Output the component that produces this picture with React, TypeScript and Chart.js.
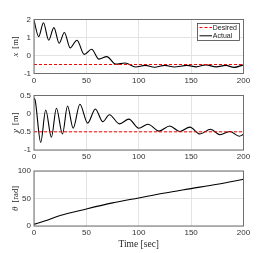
import React, { useEffect, useRef } from "react";
import { Chart, registerables } from "chart.js";

Chart.register(...registerables);

// ---- data ----
const xTime = [0, 4.5, 9, 14, 19, 24, 29, 34.5, 41, 48, 55, 62, 69.5, 78, 87, 97, 106, 115, 125, 134, 146, 155, 164, 174, 183, 191, 200];
const xActual = [1.95, 1.05, 1.82, 0.85, 1.55, 0.68, 1.28, 0.42, 0.85, 0.06, 0.35, -0.2, -0.06, -0.48, -0.42, -0.64, -0.55, -0.65, -0.55, -0.64, -0.55, -0.63, -0.52, -0.63, -0.55, -0.66, -0.52];
const xDesiredTime = [0, 200];
const xDesired = [-0.5, -0.5];

const yTime = [0, 1.2, 6.4, 11.2, 16.6, 21.4, 27.2, 32, 37.4, 43.8, 51.2, 58.6, 65.6, 72, 81.6, 90.6, 100, 108.8, 119.4, 129.6, 139.2, 148.8, 158.4, 168.6, 177.6, 187, 196, 200];
const yActual = [0.43, 0.36, -0.79, 0.1, -0.65, 0.15, -0.56, 0.21, -0.4, 0.26, -0.26, 0.13, -0.22, -0.03, -0.28, -0.15, -0.4, -0.29, -0.48, -0.34, -0.49, -0.37, -0.56, -0.43, -0.58, -0.49, -0.62, -0.57];
const yDesiredTime = [0, 200];
const yDesired = [-0.5, -0.5];

const thetaTime = [0, 10, 25, 50, 75, 100, 125, 150, 175, 200];
const thetaActual = [3, 9, 19, 31, 42, 51, 60, 68, 76, 85];

const xTicks = [0, 50, 100, 150, 200];
const legendLabels = ["Desired", "Actual"];

const W = 269;
const PLOT_LEFT = 34;
const PLOT_RIGHT = 243.5;

const pts = (t: number[], v: number[]) => t.map((tt, i) => ({ x: tt, y: v[i] }));

const borderPlugin = {
  id: "boxBorder",
  afterDraw(chart: any) {
    const { left, right, top, bottom } = chart.chartArea;
    const ctx = chart.ctx;
    ctx.save();
    ctx.strokeStyle = "#6e6e6e";
    ctx.lineWidth = 1;
    ctx.strokeRect(left, top, right - left, bottom - top);
    ctx.restore();
  },
};

function yTitlePlugin(variable: string, unit: string) {
  return {
    id: "yTitle",
    afterDraw(chart: any) {
      const { top, bottom } = chart.chartArea;
      const ctx = chart.ctx;
      ctx.save();
      ctx.translate(16, (top + bottom) / 2);
      ctx.rotate(-Math.PI / 2);
      ctx.fillStyle = "#262626";
      ctx.textBaseline = "middle";
      ctx.textAlign = "left";
      const vFont = "italic 9px 'Liberation Serif'";
      const uFont = "8.5px 'Liberation Serif'";
      ctx.font = vFont;
      const vw = ctx.measureText(variable).width;
      ctx.font = uFont;
      const gap = 4;
      const uw = ctx.measureText(unit).width;
      const total = vw + gap + uw;
      const x0 = -total / 2;
      ctx.font = vFont;
      ctx.fillText(variable, x0, 0);
      ctx.font = uFont;
      ctx.fillText(unit, x0 + vw + gap, 0);
      ctx.restore();
    },
  };
}

const legendPlugin = {
  id: "boxLegend",
  afterDraw(chart: any) {
    const ctx = chart.ctx;
    const bx = 197.5, by = 23.5, bw = 42, bh = 17;
    ctx.save();
    ctx.fillStyle = "#ffffff";
    ctx.fillRect(bx, by, bw, bh);
    ctx.strokeStyle = "#444";
    ctx.lineWidth = 0.8;
    ctx.strokeRect(bx, by, bw, bh);
    const rows = [27.5, 35.8];
    const colors = ["#ff0000", "#000000"];
    const dashes = [[3, 2], []];
    rows.forEach((ry, i) => {
      ctx.beginPath();
      ctx.setLineDash(dashes[i]);
      ctx.strokeStyle = colors[i];
      ctx.lineWidth = 1;
      ctx.moveTo(199.5, ry);
      ctx.lineTo(212, ry);
      ctx.stroke();
      ctx.setLineDash([]);
      ctx.fillStyle = "#1a1a1a";
      ctx.font = "7px 'Liberation Sans'";
      ctx.textBaseline = "middle";
      ctx.textAlign = "left";
      ctx.fillText(legendLabels[i], 212.8, ry + 0.3);
    });
    ctx.restore();
  },
};

const xLabelPlugin = {
  id: "xLabel",
  afterDraw(chart: any) {
    const { left, right } = chart.chartArea;
    const ctx = chart.ctx;
    ctx.save();
    ctx.fillStyle = "#262626";
    ctx.font = "9.5px 'Liberation Serif'";
    ctx.textAlign = "center";
    ctx.textBaseline = "middle";
    ctx.fillText("Time [sec]", (left + right) / 2, 82);
    ctx.restore();
  },
};

function buildConfig(opts: {
  datasets: any[];
  yMin: number;
  yMax: number;
  yStep: number;
  top: number;
  bottom: number;
  height: number;
  plugins: any[];
}) {
  const tickFont = { family: "'Liberation Sans', Arial, sans-serif", size: 8 };
  return {
    type: "line" as const,
    data: { datasets: opts.datasets },
    options: {
      animation: false as const,
      responsive: false,
      maintainAspectRatio: false,
      events: [],
      layout: { padding: { top: opts.top, right: W - PLOT_RIGHT, left: 0, bottom: 0 } },
      plugins: { legend: { display: false }, tooltip: { enabled: false } },
      elements: { point: { radius: 0 } },
      scales: {
        x: {
          type: "linear" as const,
          min: 0,
          max: 200,
          afterBuildTicks: (s: any) => {
            s.ticks = xTicks.map((v) => ({ value: v }));
          },
          afterFit: (s: any) => {
            s.height = opts.height - opts.bottom;
          },
          ticks: {
            font: tickFont,
            color: "#333",
            padding: 2,
            maxRotation: 0,
            autoSkip: false,
            callback: (v: any) => String(v),
          },
          grid: { color: "#e3e3e3", lineWidth: 1, drawTicks: false },
          border: { display: false },
        },
        y: {
          type: "linear" as const,
          min: opts.yMin,
          max: opts.yMax,
          ticks: {
            stepSize: opts.yStep,
            font: tickFont,
            color: "#333",
            padding: 3,
            callback: (v: any) => String(Math.round(Number(v) * 100) / 100),
          },
          afterFit: (s: any) => {
            s.width = PLOT_LEFT;
          },
          grid: { color: "#e3e3e3", lineWidth: 1, drawTicks: false },
          border: { display: false },
        },
      },
    },
    plugins: [borderPlugin, ...opts.plugins],
  };
}

const actualStyle = {
  borderColor: "#000000",
  borderWidth: 1.1,
  pointRadius: 0,
  fill: false,
  cubicInterpolationMode: "monotone" as const,
};
const desiredStyle = {
  borderColor: "#ff0000",
  borderWidth: 1,
  borderDash: [3, 2],
  pointRadius: 0,
  fill: false,
};

function Panel(props: { top: number; height: number; config: () => any }) {
  const ref = useRef<HTMLCanvasElement | null>(null);
  useEffect(() => {
    if (!ref.current) return;
    const chart = new Chart(ref.current, props.config());
    return () => chart.destroy();
  }, []);
  return (
    <canvas
      ref={ref}
      width={W}
      height={props.height}
      style={{ position: "absolute", left: 0, top: props.top, width: W, height: props.height }}
    />
  );
}

export default function App() {
  return (
    <div style={{ position: "fixed", left: 0, top: 0, width: W, height: 253, background: "#fff" }}>
      <Panel
        top={0}
        height={84}
        config={() =>
          buildConfig({
            datasets: [
              { label: "Desired", data: pts(xDesiredTime, xDesired), ...desiredStyle },
              { label: "Actual", data: pts(xTime, xActual), ...actualStyle },
            ],
            yMin: -1,
            yMax: 2,
            yStep: 1,
            top: 19.5,
            bottom: 73.5,
            height: 84,
            plugins: [yTitlePlugin("x", "[m]"), legendPlugin],
          })
        }
      />
      <Panel
        top={84}
        height={78}
        config={() =>
          buildConfig({
            datasets: [
              { label: "Desired", data: pts(yDesiredTime, yDesired), ...desiredStyle },
              { label: "Actual", data: pts(yTime, yActual), ...actualStyle },
            ],
            yMin: -1,
            yMax: 0.5,
            yStep: 0.5,
            top: 11.5,
            bottom: 66,
            height: 78,
            plugins: [yTitlePlugin("y", "[m]")],
          })
        }
      />
      <Panel
        top={162}
        height={91}
        config={() =>
          buildConfig({
            datasets: [{ label: "Actual", data: pts(thetaTime, thetaActual), ...actualStyle }],
            yMin: 0,
            yMax: 100,
            yStep: 50,
            top: 9,
            bottom: 64,
            height: 91,
            plugins: [yTitlePlugin("θ", "[rad]"), xLabelPlugin],
          })
        }
      />
    </div>
  );
}
